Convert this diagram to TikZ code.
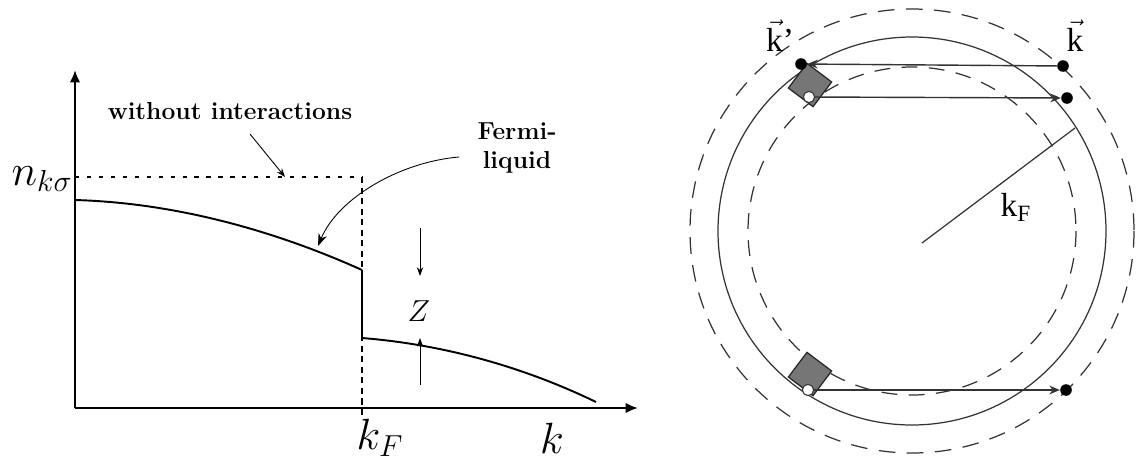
\documentclass[tikz,border=0pt]{standalone}
\usepackage{fontspec}
\usepackage{xcolor}
\usepackage{tikz}
\usetikzlibrary{arrows.meta,positioning,calc}
\newfontfamily\timesfont{Liberation Serif}
\definecolor{squareGray}{HTML}{767676}
\definecolor{lineGray}{HTML}{333333}

\begin{document}
\begin{tikzpicture}[
    x=0.02cm, y=-0.02cm,
    axis/.style={line width=1.3pt, -{Latex[length=7pt,width=6pt]}},
    curve/.style={line width=1.1pt},
    guide/.style={line width=0.9pt, dash pattern=on 2.4pt off 4.4pt},
    kfguide/.style={line width=0.9pt, dash pattern=on 3.5pt off 2.5pt},
    pointer/.style={line width=0.5pt, -{Stealth[length=5pt,width=3.6pt]}},
    lbl/.style={font=\fontsize{14}{16}\selectfont\bfseries, align=center, inner sep=0pt},
    mlbl/.style={font=\fontsize{24}{28}\selectfont, inner sep=0pt},
    ring/.style={line width=0.7pt, lineGray},
    dashring/.style={ring, dash pattern=on 9.5pt off 6.5pt},
    dotb/.style={circle, fill=black, minimum size=6.6pt, inner sep=0pt},
    dotw/.style={circle, draw=lineGray, fill=white, line width=0.6pt, minimum size=6.4pt, inner sep=0pt},
    sqbox/.style={draw=black!85, fill=squareGray, line width=0.7pt, minimum size=17.6pt, inner sep=0pt, rotate=-37},
    kvec/.style={line width=0.8pt, lineGray, -{Stealth[length=6pt,width=5pt]}},
    klbl/.style={font=\fontsize{19}{22}\timesfont, inner sep=0pt}
  ]
    \useasboundingbox (0,0) rectangle (1137,467);

    % occupation number plot
    \coordinate (orig) at (75,408);
    \coordinate (ytip) at (75,70);
    \coordinate (xtip) at (638,408);
    \coordinate (nlev) at (75,177);
    \coordinate (kfTop) at (362,177);
    \coordinate (kfBot) at (362,416);
    \coordinate (jumpHi) at (362,270);
    \coordinate (jumpLo) at (362,338);

    \draw[guide] (nlev) -- (kfTop);
    \draw[kfguide] (kfTop) -- (kfBot);
    \draw[axis] (orig) -- (ytip);
    \draw[axis] (orig) -- (xtip);
    \draw[curve] (75,200) .. controls (180,203) and (280,233) .. (jumpHi);
    \draw[curve] (jumpHi) -- (jumpLo);
    \draw[curve] (jumpLo) .. controls (450,345) and (530,370) .. (596,402);

    \node[mlbl] (nks) at (42,179) {$n_{k\sigma}$};
    \node[mlbl] (kf) at (380,438) {$k_F$};
    \node[mlbl] (kk) at (552,438) {$k$};
    \node[font=\fontsize{18}{20}\selectfont, inner sep=0pt] (zz) at (419,311) {$Z$};

    \node[lbl] (wo) at (230,111) {without interactions};
    \coordinate (woStart) at (250,134);
    \coordinate (woTip) at (285,177);
    \draw[pointer] (woStart) -- (woTip);

    \node[lbl] (fl) at (517,148) {Fermi-\\liquid};
    \coordinate (flStart) at (459,157);
    \coordinate (flTip) at (318,246);
    \draw[pointer, -{Stealth[length=7pt,width=5pt]}] (flStart) .. controls (400,162) and (338,198) .. (flTip);

    \coordinate (zTopA) at (420,228);
    \coordinate (zTopB) at (420,276);
    \coordinate (zBotA) at (420,385);
    \coordinate (zBotB) at (420,338);
    \draw[pointer] (zTopA) -- (zTopB);
    \draw[pointer] (zBotA) -- (zBotB);

    % Fermi sphere
    \coordinate (ctr) at (912,231);
    \draw[dashring] (ctr) circle[radius=222];
    \draw[ring] (ctr) circle[radius=194];
    \draw[dashring, dash pattern=on 9pt off 6.5pt] (ctr) circle[radius=164];
    \coordinate (rStart) at (922,243);
    \coordinate (rEnd) at (1075,128);
    \draw[ring] (rStart) -- (rEnd);
    \node[klbl] (kFlbl) at (1016,207) {k\textsubscript{F}};

    \node[sqbox] (sqTop) at (810,85) {};
    \node[sqbox] (sqBot) at (810,374) {};

    \node[dotb] (kp) at (801,64) {};
    \node[dotb] (kTop) at (1063,66) {};
    \node[dotw] (hTop) at (809,97) {};
    \node[dotb] (qTop) at (1067,98) {};
    \node[dotw] (hBot) at (808,390) {};
    \node[dotb] (qBot) at (1066,390) {};

    \draw[kvec] (kTop) -- (kp);
    \draw[kvec] (hTop) -- (qTop);
    \draw[kvec] (hBot) -- (qBot);

    \node[klbl] (kplbl) at (780,36) {$\vec{\hbox{k}}$’};
    \node[klbl] (klbl) at (1075,36) {$\vec{\hbox{k}}$};
  \end{tikzpicture}
\end{document}
